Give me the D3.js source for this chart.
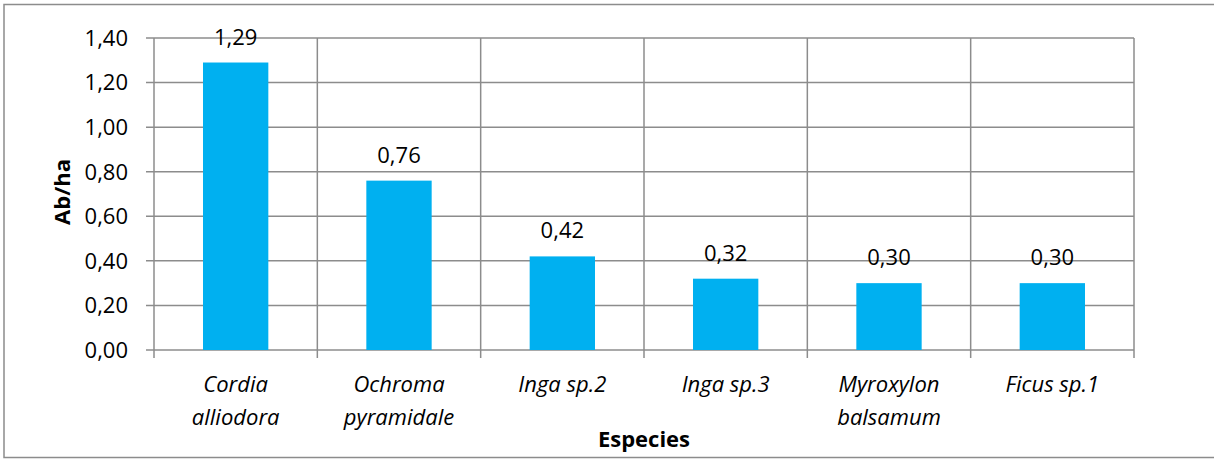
<!DOCTYPE html>
<html>
<head>
<meta charset="utf-8">
<script src="https://cdn.jsdelivr.net/npm/d3@7"></script>
<style>
  body { margin: 0; background: #fff; }
  text { font-family: "Open Sans", Lato, sans-serif; fill: #000; }
</style>
</head>
<body>
<div id="chart"></div>
<script>
const species = [["Cordia", "alliodora"], ["Ochroma", "pyramidale"], ["Inga sp.2"], ["Inga sp.3"], ["Myroxylon", "balsamum"], ["Ficus sp.1"]];
const abHa = [1.29, 0.76, 0.42, 0.32, 0.30, 0.30];
const yTicks = [0, 0.2, 0.4, 0.6, 0.8, 1.0, 1.2, 1.4];

const W = 1214, H = 459;
const margin = { top: 38, right: 80, bottom: 109, left: 154 },
      width = W - margin.left - margin.right,
      height = H - margin.top - margin.bottom;

const fmt = v => v.toFixed(2).replace(".", ",");
const grid = "#8c8c8c";

const root = d3.select("#chart").append("svg")
  .attr("width", W).attr("height", H);

// outer frame
root.append("rect")
  .attr("x", 4).attr("y", 4.5)
  .attr("width", W + 10).attr("height", H - 6)
  .attr("fill", "none").attr("stroke", "#8c8c8c").attr("stroke-width", 1.5);

const svg = root.append("g")
  .attr("transform", `translate(${margin.left},${margin.top})`);

const x = d3.scaleBand().domain(d3.range(species.length)).range([0, width]).padding(0);
const y = d3.scaleLinear().domain([0, 1.4]).range([height, 0]);

// horizontal gridlines + tick marks
svg.selectAll(".hgrid").data(yTicks).enter().append("line")
  .attr("x1", -8).attr("x2", width)
  .attr("y1", d => y(d)).attr("y2", d => y(d))
  .attr("stroke", grid).attr("stroke-width", 1.5);

// vertical gridlines at category boundaries
const bounds = d3.range(species.length + 1).map(i => i * x.step());
svg.selectAll(".vgrid").data(bounds).enter().append("line")
  .attr("x1", d => d).attr("x2", d => d)
  .attr("y1", 0).attr("y2", height + 8)
  .attr("stroke", grid).attr("stroke-width", 1.5);

// y tick labels
svg.selectAll(".ylab").data(yTicks).enter().append("text")
  .attr("x", -26).attr("y", d => y(d))
  .attr("dy", "0.36em")
  .attr("text-anchor", "end")
  .style("font-size", "22px")
  .text(fmt);

// bars
const bw = x.bandwidth() * 0.4;
svg.selectAll(".bar").data(abHa).enter().append("rect")
  .attr("x", (d, i) => x(i) + (x.bandwidth() - bw) / 2)
  .attr("y", d => y(d))
  .attr("width", bw)
  .attr("height", d => height - y(d))
  .attr("fill", "#00b0f0");

// value labels
svg.selectAll(".val").data(abHa).enter().append("text")
  .attr("x", (d, i) => x(i) + x.bandwidth() / 2)
  .attr("y", d => y(d) - 18)
  .attr("text-anchor", "middle")
  .style("font-size", "22px")
  .text(fmt);

// category labels
const cat = svg.selectAll(".cat").data(species).enter().append("text")
  .attr("x", (d, i) => x(i) + x.bandwidth() / 2)
  .attr("y", height + 42)
  .attr("text-anchor", "middle")
  .style("font-size", "22px")
  .style("font-style", "italic");
cat.selectAll("tspan").data(d => d).enter().append("tspan")
  .attr("x", function () { return d3.select(this.parentNode).attr("x"); })
  .attr("dy", (d, i) => i === 0 ? 0 : 33)
  .text(d => d);

// axis titles
svg.append("text")
  .attr("x", width / 2).attr("y", height + 97)
  .attr("text-anchor", "middle")
  .style("font-size", "22px").style("font-weight", "bold")
  .text("Especies");

svg.append("text")
  .attr("transform", "rotate(-90)")
  .attr("x", -154).attr("y", -84)
  .attr("text-anchor", "middle")
  .style("font-size", "22px").style("font-weight", "bold")
  .text("Ab/ha");
</script>
</body>
</html>
